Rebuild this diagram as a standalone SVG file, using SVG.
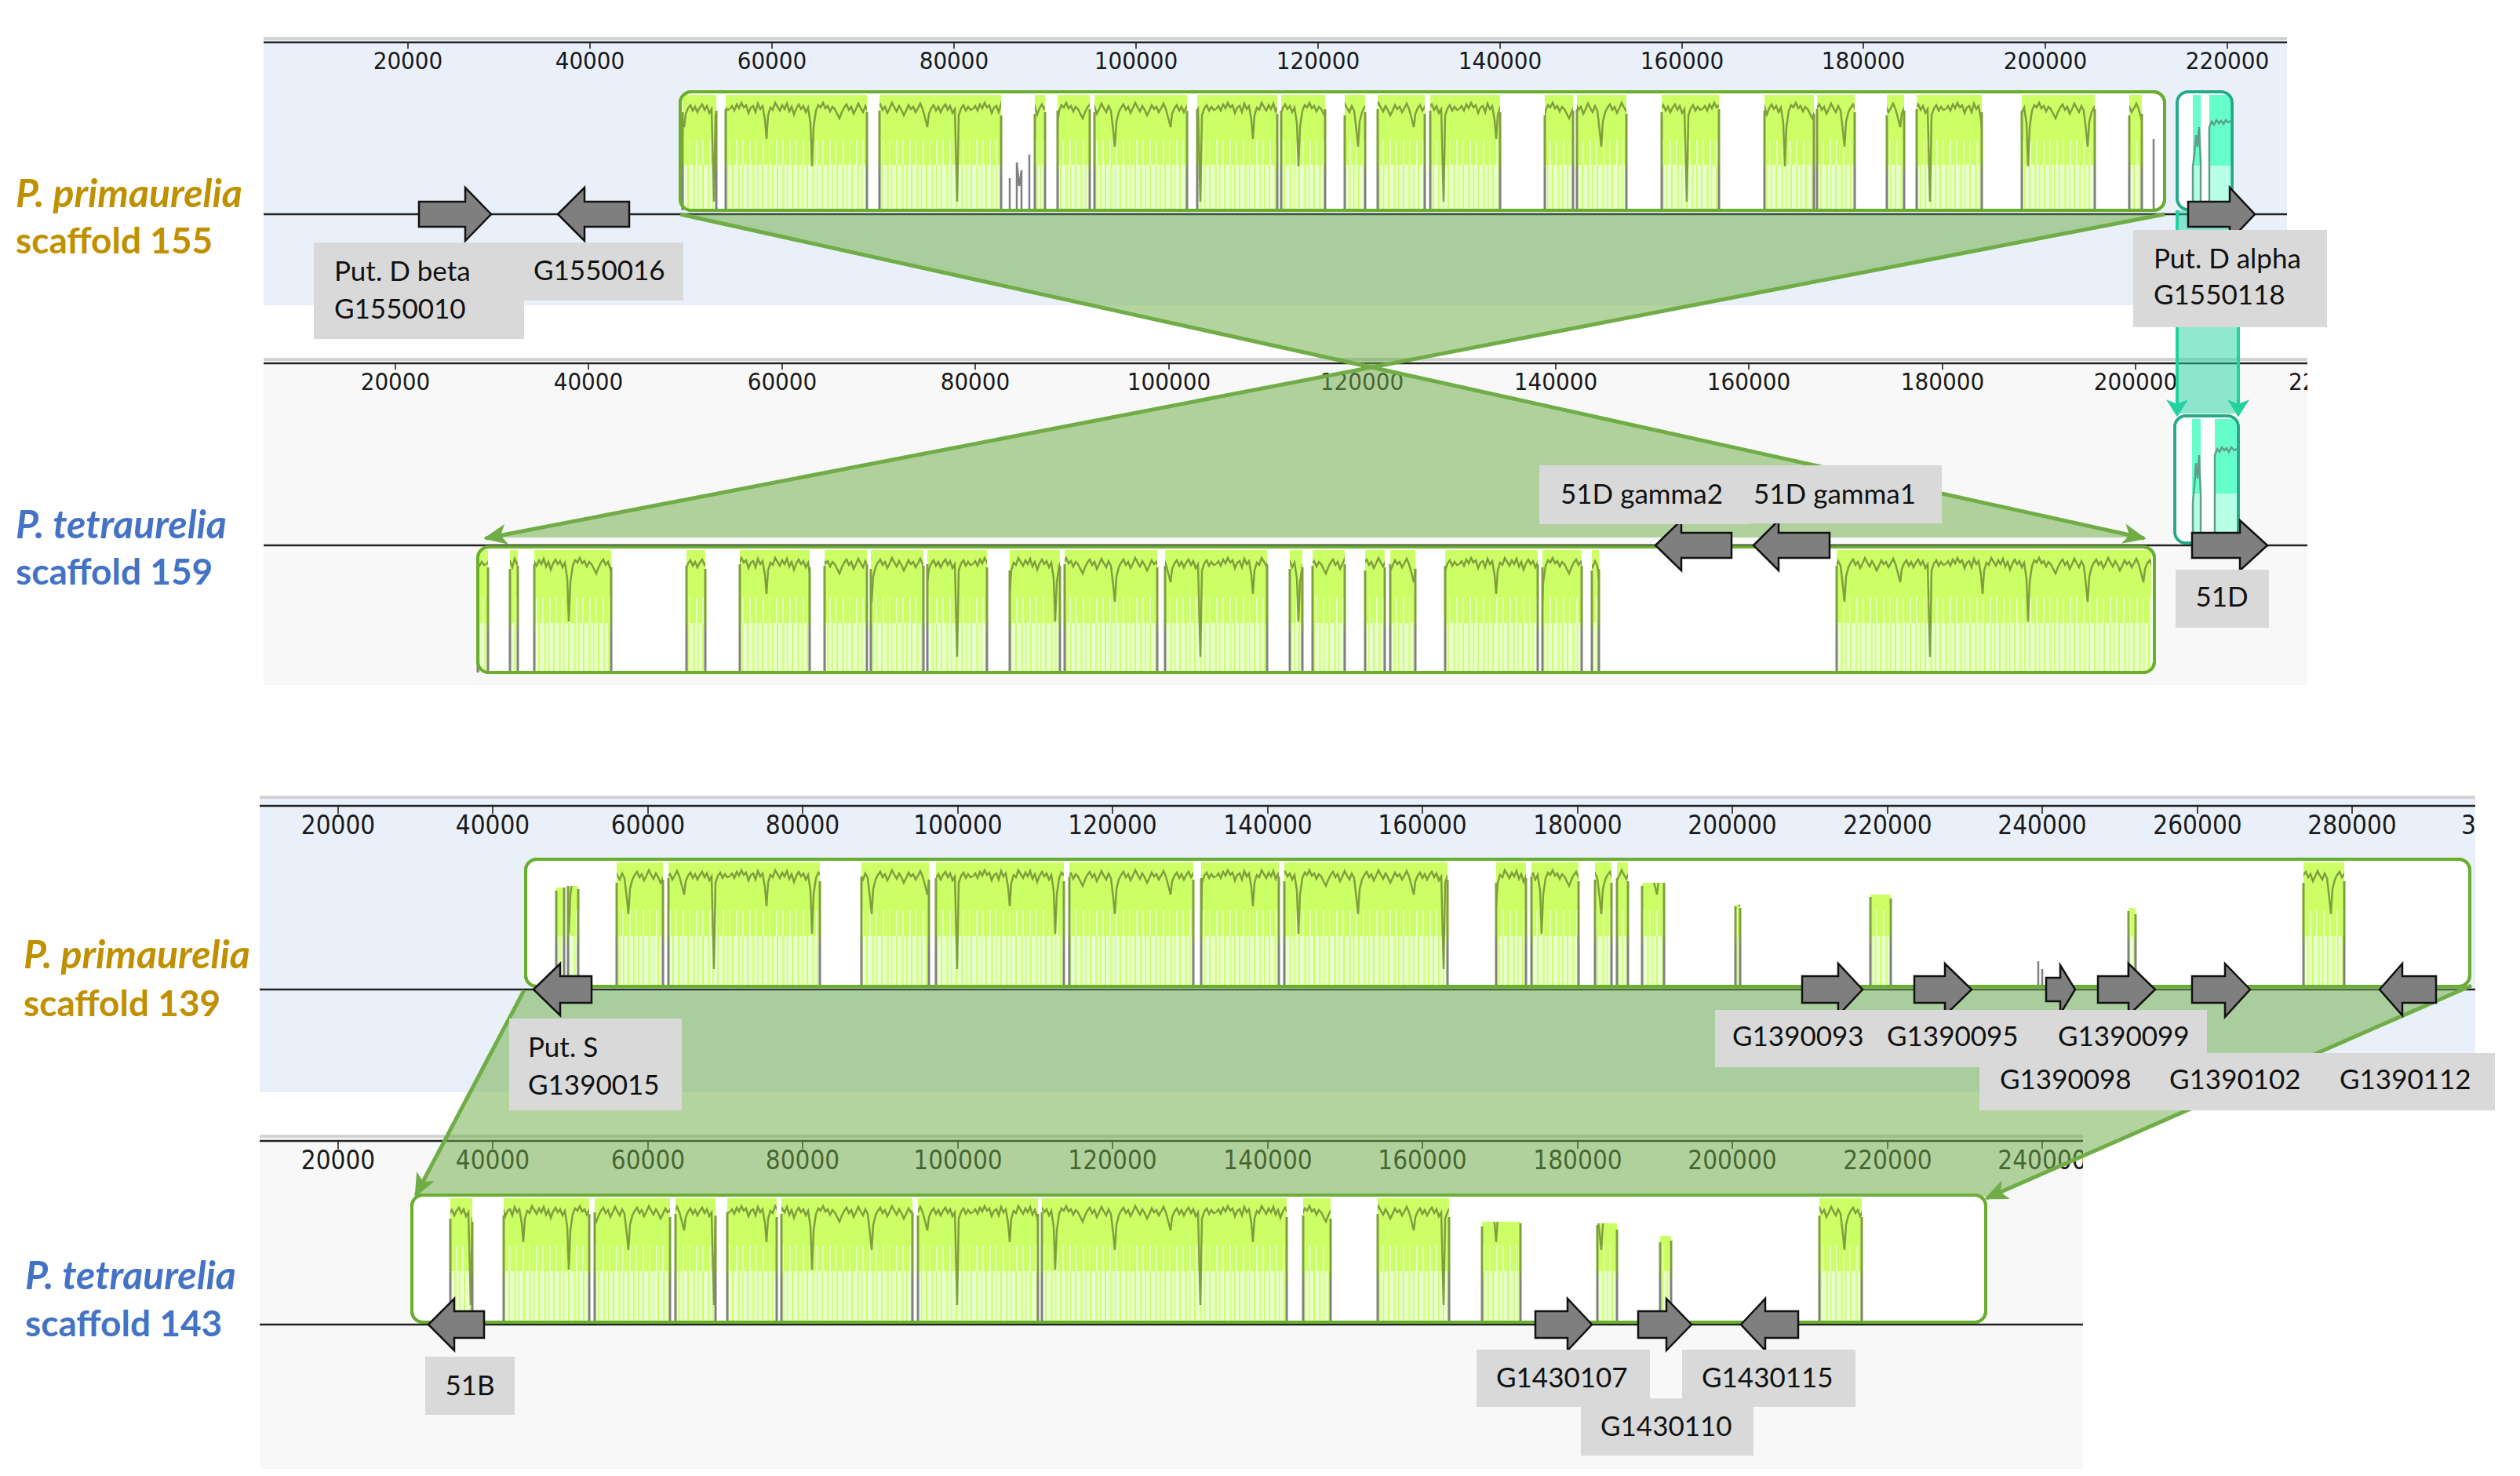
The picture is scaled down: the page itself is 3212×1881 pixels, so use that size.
<svg xmlns="http://www.w3.org/2000/svg" width="3212" height="1881" viewBox="0 0 3212 1881">
<defs>
<style>
.pbgA{fill:#EAF0FA}
.pbgB{fill:#F8F8F8}
.rgray{fill:#D2D2D2}
.rline{stroke:#222;stroke-width:2.5}
.tick{stroke:#222;stroke-width:1.6}
.rl{font-family:'DejaVu Sans Condensed','DejaVu Sans','Liberation Sans',sans-serif;font-stretch:condensed;font-size:31px;fill:#1a1a1a;text-anchor:middle}
.rl2{font-size:33px}
.rs{text-anchor:start}
.scaf{stroke:#222;stroke-width:2.5}
.blk{fill:#fff;stroke:#6AAE2E;stroke-width:4}
.blkT{fill:#fff;stroke:#22A987;stroke-width:3.5}
.drop{fill:none;stroke:url(#dg);stroke-width:3}
.cf{fill:#70AD47;fill-opacity:0.52}
.cl{stroke:#70AD47;stroke-width:5;fill:none}
.tl{stroke:#22D3A0;stroke-width:4;fill:none}
.gene{fill:#7F7F7F;stroke:#111;stroke-width:2.5}
.lb{fill:#D9D9D9}
.lt{font-family:Lato,'Liberation Sans',sans-serif;font-size:35px;fill:#111}
.sp{font-family:Lato,'Liberation Sans',sans-serif;font-weight:bold;font-size:46px}
.it{font-style:italic;font-size:50px}
.gold{fill:#BF9000}
.blue{fill:#4472C4}
.tf1{fill:#66FFCC}
.tf2{fill:#B8FFE8}
.tp{fill:none;stroke:#5F9F8A;stroke-width:2.5}
</style>
<linearGradient id="dg" x1="0" y1="0" x2="0" y2="1">
<stop offset="0" stop-color="#7F9F3F"/><stop offset="0.5" stop-color="#7F9F3F"/><stop offset="0.65" stop-color="#808080"/><stop offset="1" stop-color="#808080"/>
</linearGradient>
<pattern id="t2" width="17" height="40" patternUnits="userSpaceOnUse"><rect width="17" height="40" fill="#CCFF66"/><rect x="3" width="2" height="40" fill="#E6FFC2"/><rect x="11" width="1.5" height="40" fill="#E6FFC2"/></pattern>
<pattern id="t3" width="19" height="80" patternUnits="userSpaceOnUse"><rect width="19" height="80" fill="#EAFFCF"/><rect x="2" width="2" height="80" fill="#CCFF66"/><rect x="9" width="3" height="80" fill="#D6FF88"/><rect x="15" width="1.5" height="80" fill="#CCFF66"/></pattern>
<pattern id="prof" width="310" height="200" patternUnits="userSpaceOnUse"><path d="M0 22 L3 18 L6 24 L9 16 L12 21 L15 14 L18 20 L21 17 L24 27 L27 20 L30 18 L33 26 L36 15 L39 22 L42 18 L45 36 L47 60 L49 30 L52 20 L55 23 L58 14 L61 19 L64 24 L67 17 L70 22 L73 15 L76 25 L79 19 L82 29 L85 21 L88 16 L91 22 L94 18 L97 26 L100 20 L103 40 L105 95 L107 45 L110 24 L113 17 L116 20 L119 14 L122 21 L125 18 L128 25 L131 19 L134 22 L137 28 L140 34 L143 26 L146 20 L149 16 L152 23 L155 19 L158 28 L161 22 L164 15 L167 21 L170 26 L173 18 L176 24 L179 50 L181 70 L183 38 L186 26 L189 20 L192 16 L195 23 L198 19 L201 27 L204 21 L207 14 L210 20 L213 25 L216 18 L219 23 L222 30 L225 24 L228 17 L231 22 L234 19 L237 26 L240 21 L243 15 L246 22 L249 33 L252 45 L254 28 L257 21 L260 17 L263 24 L266 19 L269 26 L272 20 L275 16 L278 23 L281 18 L284 27 L287 22 L290 140 L292 30 L295 21 L298 17 L301 24 L304 19 L307 23 L310 22" fill="none" stroke="#7F9F3F" stroke-width="2.5"/></pattern>
<marker id="ag" viewBox="0 0 10 10" refX="9" refY="5" markerWidth="30" markerHeight="26" markerUnits="userSpaceOnUse" orient="auto" preserveAspectRatio="none"><path d="M0,0 L10,5 L0,10 L2.5,5 z" fill="#70AD47"/></marker>
<marker id="at" viewBox="0 0 10 10" refX="9" refY="5" markerWidth="22" markerHeight="28" markerUnits="userSpaceOnUse" orient="auto" preserveAspectRatio="none"><path d="M0,0 L10,5 L0,10 L2.5,5 z" fill="#22D3A0"/></marker>
<clipPath id="cpA"><rect x="336" y="40" width="2579" height="360"/></clipPath>
<clipPath id="cpB"><rect x="336" y="450" width="2605" height="430"/></clipPath>
<clipPath id="cpC"><rect x="331" y="1005" width="2824" height="390"/></clipPath>
<clipPath id="cpD"><rect x="331" y="1440" width="2324" height="435"/></clipPath>
</defs>

<rect width="3212" height="1881" fill="#fff"/>

<!-- Panel A -->
<g id="panel-a" clip-path="url(#cpA)">
<rect class="pbgA" x="336" y="47" width="2579" height="342"/>
<rect class="rgray" x="336" y="47" width="2579" height="4"/>
<line class="rline" x1="336" y1="54" x2="2915" y2="54"/>
<path class="tick" d="M520 54V62M752 54V62M984 54V62M1216 54V62M1448 54V62M1680 54V62M1912 54V62M2144 54V62M2375 54V62M2607 54V62M2839 54V62"/>
<text class="rl" x="520" y="88">20000</text><text class="rl" x="752" y="88">40000</text><text class="rl" x="984" y="88">60000</text><text class="rl" x="1216" y="88">80000</text><text class="rl" x="1448" y="88">100000</text><text class="rl" x="1680" y="88">120000</text><text class="rl" x="1912" y="88">140000</text><text class="rl" x="2144" y="88">160000</text><text class="rl" x="2375" y="88">180000</text><text class="rl" x="2607" y="88">200000</text><text class="rl" x="2839" y="88">220000</text>
<line class="scaf" x1="336" y1="273" x2="2915" y2="273"/>
</g>

<!-- Panel B -->
<g id="panel-b" clip-path="url(#cpB)">
<rect class="pbgB" x="336" y="456" width="2605" height="417"/>
<rect class="rgray" x="336" y="456" width="2605" height="4"/>
<line class="rline" x1="336" y1="463" x2="2941" y2="463"/>
<path class="tick" d="M504 463V471M750 463V471M997 463V471M1243 463V471M1490 463V471M1736 463V471M1983 463V471M2229 463V471M2476 463V471M2722 463V471"/>
<text class="rl" x="504" y="497">20000</text><text class="rl" x="750" y="497">40000</text><text class="rl" x="997" y="497">60000</text><text class="rl" x="1243" y="497">80000</text><text class="rl" x="1490" y="497">100000</text><text class="rl" x="1736" y="497">120000</text><text class="rl" x="1983" y="497">140000</text><text class="rl" x="2229" y="497">160000</text><text class="rl" x="2476" y="497">180000</text><text class="rl" x="2722" y="497">200000</text><text class="rl rs" x="2917" y="497">22</text>
<line class="scaf" x1="336" y1="695" x2="2941" y2="695"/>
</g>

<!-- Panel C -->
<g id="panel-c" clip-path="url(#cpC)">
<rect class="pbgA" x="331" y="1014" width="2824" height="378"/>
<rect class="rgray" x="331" y="1014" width="2824" height="4"/>
<line class="rline" x1="331" y1="1027" x2="3155" y2="1027"/>
<path class="tick" d="M431 1027V1037M628 1027V1037M826 1027V1037M1023 1027V1037M1221 1027V1037M1418 1027V1037M1616 1027V1037M1813 1027V1037M2011 1027V1037M2208 1027V1037M2406 1027V1037M2603 1027V1037M2801 1027V1037M2998 1027V1037"/>
<text class="rl rl2" x="431" y="1063">20000</text><text class="rl rl2" x="628" y="1063">40000</text><text class="rl rl2" x="826" y="1063">60000</text><text class="rl rl2" x="1023" y="1063">80000</text><text class="rl rl2" x="1221" y="1063">100000</text><text class="rl rl2" x="1418" y="1063">120000</text><text class="rl rl2" x="1616" y="1063">140000</text><text class="rl rl2" x="1813" y="1063">160000</text><text class="rl rl2" x="2011" y="1063">180000</text><text class="rl rl2" x="2208" y="1063">200000</text><text class="rl rl2" x="2406" y="1063">220000</text><text class="rl rl2" x="2603" y="1063">240000</text><text class="rl rl2" x="2801" y="1063">260000</text><text class="rl rl2" x="2998" y="1063">280000</text><text class="rl rl2 rs" x="3137" y="1063">3</text>
<line class="scaf" x1="331" y1="1261" x2="3155" y2="1261"/>
</g>

<!-- Panel D -->
<g id="panel-d" clip-path="url(#cpD)">
<rect class="pbgB" x="331" y="1446" width="2324" height="426"/>
<rect class="rgray" x="331" y="1446" width="2324" height="4"/>
<line class="rline" x1="331" y1="1454" x2="2655" y2="1454"/>
<path class="tick" d="M431 1454V1464M628 1454V1464M826 1454V1464M1023 1454V1464M1221 1454V1464M1418 1454V1464M1616 1454V1464M1813 1454V1464M2011 1454V1464M2208 1454V1464M2406 1454V1464M2603 1454V1464"/>
<text class="rl rl2" x="431" y="1490">20000</text><text class="rl rl2" x="628" y="1490">40000</text><text class="rl rl2" x="826" y="1490">60000</text><text class="rl rl2" x="1023" y="1490">80000</text><text class="rl rl2" x="1221" y="1490">100000</text><text class="rl rl2" x="1418" y="1490">120000</text><text class="rl rl2" x="1616" y="1490">140000</text><text class="rl rl2" x="1813" y="1490">160000</text><text class="rl rl2" x="2011" y="1490">180000</text><text class="rl rl2" x="2208" y="1490">200000</text><text class="rl rl2" x="2406" y="1490">220000</text><text class="rl rl2" x="2603" y="1490">240000</text>
<line class="scaf" x1="331" y1="1688" x2="2655" y2="1688"/>
</g>

<!-- Block A -->
<g id="block-a" transform="translate(0,117)">
<clipPath id="segA"><rect x="870" y="4" width="43" height="147"/><rect x="925" y="4" width="180" height="147"/><rect x="1121" y="4" width="155" height="147"/><rect x="1319" y="4" width="13" height="147"/><rect x="1348" y="4" width="41" height="147"/><rect x="1395" y="4" width="118" height="147"/><rect x="1526" y="4" width="102" height="147"/><rect x="1633" y="4" width="56" height="147"/><rect x="1714" y="4" width="26" height="147"/><rect x="1756" y="4" width="60" height="147"/><rect x="1823" y="4" width="89" height="147"/><rect x="1969" y="4" width="36" height="147"/><rect x="2010" y="4" width="63" height="147"/><rect x="2118" y="4" width="73" height="147"/><rect x="2249" y="4" width="63" height="147"/><rect x="2316" y="4" width="48" height="147"/><rect x="2405" y="4" width="22" height="147"/><rect x="2443" y="4" width="83" height="147"/><rect x="2577" y="4" width="93" height="147"/><rect x="2714" y="4" width="16" height="147"/></clipPath>
<rect class="blk" x="867" y="0" width="1892" height="151" rx="14"/>
<g clip-path="url(#segA)">
<rect x="867" y="0" width="1892" height="62" fill="#CCFF66"/>
<rect x="867" y="62" width="1892" height="31" fill="url(#t2)"/>
<rect x="867" y="93" width="1892" height="58" fill="url(#t3)"/>
<rect x="867" y="0" width="1892" height="151" fill="url(#prof)"/>
</g>
<path class="drop" d="M870 151V26M913 24V151M925 151V22M1105 26V151M1121 151V24M1276 30V151M1319 151V28M1332 26V151M1348 151V24M1389 22V151M1395 151V26M1513 24V151M1526 151V22M1628 28V151M1633 151V24M1689 22V151M1714 151V30M1740 26V151M1756 151V22M1816 28V151M1823 151V24M1912 26V151M1969 151V30M2005 24V151M2010 151V22M2073 28V151M2118 151V26M2191 22V151M2249 151V24M2312 28V151M2316 151V22M2364 26V151M2405 151V30M2427 24V151M2443 151V22M2526 26V151M2577 151V24M2670 22V151M2714 151V30M2730 28V151"/>
<path fill="none" stroke="#808080" stroke-width="2.5" d="M1287 151V110M1296 151V90L1299 120L1302 100V151M1312 151V80M2745 151V60"/>
<rect x="867" y="0" width="1892" height="151" rx="14" fill="none" stroke="#6AAE2E" stroke-width="4"/>
</g>

<!-- Block A2 (teal) -->
<g id="block-a2" transform="translate(0,117)">
<rect class="blkT" x="2775" y="0" width="70" height="150" rx="14"/>
<rect class="tf1" x="2795" y="4" width="10" height="90"/><rect class="tf2" x="2795" y="94" width="10" height="56"/>
<rect class="tf1" x="2816" y="4" width="28" height="90"/><rect class="tf2" x="2816" y="94" width="28" height="56"/>
<path class="tp" d="M2795 150V95L2797 80L2799 55L2801 70L2803 45L2805 90V150M2816 150V45L2819 38L2822 42L2825 36L2828 40L2831 37L2834 41L2837 36L2840 39L2844 37"/>
<rect x="2775" y="0" width="70" height="150" rx="14" fill="none" stroke="#22A987" stroke-width="3.5"/>
</g>

<!-- Block B -->
<g id="block-b" transform="translate(0,697)">
<clipPath id="segB"><rect x="609" y="4" width="13" height="156"/><rect x="650" y="4" width="10" height="156"/><rect x="681" y="4" width="98" height="156"/><rect x="875" y="4" width="24" height="156"/><rect x="943" y="4" width="89" height="156"/><rect x="1051" y="4" width="54" height="156"/><rect x="1110" y="4" width="67" height="156"/><rect x="1182" y="4" width="76" height="156"/><rect x="1287" y="4" width="64" height="156"/><rect x="1357" y="4" width="118" height="156"/><rect x="1485" y="4" width="130" height="156"/><rect x="1644" y="4" width="16" height="156"/><rect x="1673" y="4" width="41" height="156"/><rect x="1740" y="4" width="25" height="156"/><rect x="1772" y="4" width="32" height="156"/><rect x="1842" y="4" width="118" height="156"/><rect x="1966" y="4" width="50" height="156"/><rect x="2029" y="4" width="9" height="156"/><rect x="2341" y="4" width="401" height="156"/></clipPath>
<rect class="blk" x="609" y="0" width="2137" height="160" rx="14"/>
<g clip-path="url(#segB)">
<rect x="609" y="0" width="2137" height="64" fill="#CCFF66"/>
<rect x="609" y="64" width="2137" height="33" fill="url(#t2)"/>
<rect x="609" y="97" width="2137" height="63" fill="url(#t3)"/>
<rect x="609" y="0" width="2137" height="160" fill="url(#prof)"/>
</g>
<path class="drop" d="M609 160V30M622 26V160M650 160V28M660 24V160M681 160V22M779 26V160M875 160V24M899 28V160M943 160V22M1032 26V160M1051 160V24M1105 22V160M1110 160V28M1177 24V160M1182 160V22M1258 26V160M1287 160V30M1351 24V160M1357 160V22M1475 26V160M1485 160V24M1615 22V160M1644 160V28M1660 26V160M1673 160V24M1714 22V160M1740 160V30M1765 26V160M1772 160V22M1804 28V160M1842 160V24M1960 22V160M1966 160V26M2016 24V160M2029 160V30M2038 28V160M2341 160V24"/>
<rect x="609" y="0" width="2137" height="160" rx="14" fill="none" stroke="#6AAE2E" stroke-width="4"/>
</g>

<!-- Block B2 (teal) -->
<g id="block-b2" transform="translate(0,530)">
<rect class="blkT" x="2772" y="0" width="81" height="162" rx="14"/>
<rect class="tf1" x="2794" y="4" width="11" height="95"/><rect class="tf2" x="2794" y="99" width="11" height="62"/>
<rect class="tf1" x="2823" y="4" width="28" height="95"/><rect class="tf2" x="2823" y="99" width="28" height="62"/>
<path class="tp" d="M2795 162V110L2797 90L2799 60L2801 80L2803 50L2805 100V162M2823 162V50L2826 42L2829 46L2832 40L2835 44L2838 41L2841 46L2844 40L2848 44L2851 42"/>
<rect x="2772" y="0" width="81" height="162" rx="14" fill="none" stroke="#22A987" stroke-width="3.5"/>
</g>

<!-- Block C -->
<g id="block-c" transform="translate(0,1095)">
<clipPath id="segC"><rect x="709" y="36" width="10" height="126"/><rect x="724" y="34" width="13" height="128"/><rect x="786" y="4" width="59" height="158"/><rect x="852" y="4" width="193" height="158"/><rect x="1098" y="4" width="86" height="158"/><rect x="1193" y="4" width="163" height="158"/><rect x="1363" y="4" width="158" height="158"/><rect x="1531" y="4" width="99" height="158"/><rect x="1637" y="4" width="208" height="158"/><rect x="1907" y="4" width="38" height="158"/><rect x="1952" y="4" width="60" height="158"/><rect x="2033" y="4" width="21" height="158"/><rect x="2061" y="4" width="14" height="158"/><rect x="2093" y="30" width="28" height="132"/><rect x="2212" y="58" width="6" height="104"/><rect x="2384" y="45" width="26" height="117"/><rect x="2713" y="62" width="9" height="100"/><rect x="2936" y="4" width="52" height="158"/></clipPath>
<rect class="blk" x="670" y="0" width="2478" height="162" rx="14"/>
<g clip-path="url(#segC)">
<rect x="670" y="0" width="2478" height="65" fill="#CCFF66"/>
<rect x="670" y="65" width="2478" height="33" fill="url(#t2)"/>
<rect x="670" y="98" width="2478" height="64" fill="url(#t3)"/>
<rect x="670" y="0" width="2478" height="162" fill="url(#prof)"/>
</g>
<path class="drop" d="M709 162V40M719 36V162M724 162V34M737 38V162M786 162V30M845 26V162M852 162V24M1045 28V162M1098 162V22M1184 26V162M1193 162V24M1356 28V162M1363 162V22M1521 26V162M1531 162V24M1630 22V162M1637 162V28M1845 26V162M1907 162V30M1945 24V162M1952 162V22M2012 28V162M2033 162V26M2054 30V162M2061 162V24M2075 28V162M2093 162V34M2121 30V162M2212 162V60M2218 62V162M2384 162V48M2410 50V162M2713 162V66M2722 70V162M2936 162V30M2988 28V162"/>
<path fill="none" stroke="#808080" stroke-width="2.5" d="M2598 162V130M2603 162V140"/>
<rect x="670" y="0" width="2478" height="162" rx="14" fill="none" stroke="#6AAE2E" stroke-width="4"/>
</g>

<!-- Block D -->
<g id="block-d" transform="translate(0,1523)">
<clipPath id="segD"><rect x="574" y="4" width="28" height="158"/><rect x="642" y="4" width="109" height="158"/><rect x="758" y="4" width="96" height="158"/><rect x="861" y="4" width="51" height="158"/><rect x="927" y="4" width="63" height="158"/><rect x="996" y="4" width="167" height="158"/><rect x="1170" y="4" width="153" height="158"/><rect x="1328" y="4" width="312" height="158"/><rect x="1661" y="4" width="35" height="158"/><rect x="1756" y="4" width="91" height="158"/><rect x="1889" y="34" width="49" height="128"/><rect x="2036" y="36" width="25" height="126"/><rect x="2116" y="52" width="14" height="110"/><rect x="2319" y="4" width="54" height="158"/></clipPath>
<rect class="blk" x="525" y="0" width="2006" height="162" rx="14"/>
<g clip-path="url(#segD)">
<rect x="525" y="0" width="2006" height="64" fill="#CCFF66"/>
<rect x="525" y="64" width="2006" height="33" fill="url(#t2)"/>
<rect x="525" y="97" width="2006" height="65" fill="url(#t3)"/>
<rect x="525" y="0" width="2006" height="162" fill="url(#prof)"/>
</g>
<path class="drop" d="M574 162V30M602 34V162M642 162V26M751 24V162M758 162V22M854 28V162M861 162V24M912 26V162M927 162V22M990 28V162M996 162V24M1163 22V162M1170 162V26M1323 24V162M1328 162V22M1640 28V162M1661 162V26M1696 30V162M1756 162V24M1847 28V162M1889 162V40M1938 36V162M2036 162V38M2061 44V162M2116 162V60M2130 58V162M2319 162V26M2373 28V162"/>
<rect x="525" y="0" width="2006" height="162" rx="14" fill="none" stroke="#6AAE2E" stroke-width="4"/>
</g>

<!-- Connectors -->
<g id="connectors">
<polygon class="cf" points="867,273 2759,273 1748,468"/>
<polygon class="cf" points="1748,468 621,685 2731,685"/>
<line class="cl" x1="867" y1="273" x2="2733" y2="686" marker-end="url(#ag)"/>
<line class="cl" x1="2759" y1="273" x2="619" y2="686" marker-end="url(#ag)"/>
<polygon fill="#22D3A0" fill-opacity="0.5" points="2775,268 2853,268 2853,527 2775,527"/>
<line class="tl" x1="2775" y1="268" x2="2775" y2="529" marker-end="url(#at)"/>
<line class="tl" x1="2853" y1="268" x2="2853" y2="529" marker-end="url(#at)"/>
<polygon class="cf" points="668,1262 3150,1256 2532,1525 530,1522"/>
<line class="cl" x1="668" y1="1262" x2="530" y2="1523" marker-end="url(#ag)"/>
<line class="cl" x1="3150" y1="1256" x2="2532" y2="1527" marker-end="url(#ag)"/>
</g>

<!-- Genes -->
<g id="gene-put-d-beta"><polygon class="gene" points="534,257 593,257 593,239 626,273 593,307 593,289 534,289"/></g>
<g id="gene-g1550016"><polygon class="gene" points="711,273 745,239 745,257 802,257 802,289 745,289 745,307"/></g>
<g id="gene-put-d-alpha"><polygon class="gene" points="2789,257 2842,257 2842,239 2874,273 2842,307 2842,289 2789,289"/></g>
<g id="gene-51d-gamma2"><polygon class="gene" points="2110,695 2143,663 2143,679 2207,679 2207,711 2143,711 2143,727"/></g>
<g id="gene-51d-gamma1"><polygon class="gene" points="2235,695 2267,663 2267,679 2332,679 2332,711 2267,711 2267,727"/></g>
<g id="gene-51d"><polygon class="gene" points="2794,679 2855,679 2855,663 2890,695 2855,727 2855,711 2794,711"/></g>
<g id="gene-put-s"><polygon class="gene" points="680,1261 714,1228 714,1244 754,1244 754,1278 714,1278 714,1294"/></g>
<g id="gene-g1390093"><polygon class="gene" points="2297,1244 2343,1244 2343,1228 2374,1261 2343,1294 2343,1278 2297,1278"/></g>
<g id="gene-g1390095"><polygon class="gene" points="2440,1244 2479,1244 2479,1228 2513,1261 2479,1294 2479,1278 2440,1278"/></g>
<g id="gene-g1390098"><polygon class="gene" points="2608,1246 2626,1246 2626,1230 2645,1261 2626,1292 2626,1276 2608,1276"/></g>
<g id="gene-g1390099"><polygon class="gene" points="2674,1244 2713,1244 2713,1228 2747,1261 2713,1294 2713,1278 2674,1278"/></g>
<g id="gene-g1390102"><polygon class="gene" points="2794,1244 2836,1244 2836,1228 2868,1261 2836,1296 2836,1278 2794,1278"/></g>
<g id="gene-g1390112"><polygon class="gene" points="3033,1261 3062,1228 3062,1244 3105,1244 3105,1278 3062,1278 3062,1294"/></g>
<g id="gene-51b"><polygon class="gene" points="546,1688 579,1655 579,1671 617,1671 617,1705 579,1705 579,1721"/></g>
<g id="gene-g1430107"><polygon class="gene" points="1957,1671 1998,1671 1998,1655 2029,1688 1998,1721 1998,1705 1957,1705"/></g>
<g id="gene-g1430110"><polygon class="gene" points="2088,1671 2124,1671 2124,1655 2156,1688 2124,1721 2124,1705 2088,1705"/></g>
<g id="gene-g1430115"><polygon class="gene" points="2219,1688 2250,1655 2250,1671 2292,1671 2292,1705 2250,1705 2250,1721"/></g>

<!-- Labels -->
<g id="label-put-d-beta"><rect class="lb" x="400" y="309" width="268" height="123"/><text class="lt" x="426" y="358">Put. D beta</text><text class="lt" x="426" y="406">G1550010</text></g>
<g id="label-g1550016"><rect class="lb" x="668" y="309" width="203" height="74"/><text class="lt" x="680" y="357">G1550016</text></g>
<g id="label-put-d-alpha"><rect class="lb" x="2719" y="293" width="247" height="124"/><text class="lt" x="2745" y="342">Put. D alpha</text><text class="lt" x="2745" y="388">G1550118</text></g>
<g id="label-51d-gamma"><rect class="lb" x="1962" y="593" width="268" height="75"/><rect class="lb" x="2208" y="593" width="267" height="74"/><text class="lt" x="1989" y="642">51D gamma2</text><text class="lt" x="2235" y="642">51D gamma1</text></g>
<g id="label-51d"><rect class="lb" x="2773" y="726" width="119" height="74"/><text class="lt" x="2832" y="773" text-anchor="middle">51D</text></g>
<g id="label-put-s"><rect class="lb" x="649" y="1298" width="220" height="117"/><text class="lt" x="673" y="1347">Put. S</text><text class="lt" x="673" y="1395">G1390015</text></g>
<g id="label-g13900-upper"><rect class="lb" x="2186" y="1287" width="627" height="73"/><text class="lt" x="2208" y="1333">G1390093</text><text class="lt" x="2405" y="1333">G1390095</text><text class="lt" x="2623" y="1333">G1390099</text></g>
<g id="label-g13900-lower"><rect class="lb" x="2523" y="1342" width="657" height="73"/><text class="lt" x="2549" y="1388">G1390098</text><text class="lt" x="2765" y="1388">G1390102</text><text class="lt" x="2982" y="1388">G1390112</text></g>
<g id="label-51b"><rect class="lb" x="542" y="1729" width="114" height="74"/><text class="lt" x="599" y="1778" text-anchor="middle">51B</text></g>
<g id="label-g1430107"><rect class="lb" x="1882" y="1720" width="221" height="73"/><text class="lt" x="1907" y="1768">G1430107</text></g>
<g id="label-g1430110"><rect class="lb" x="2015" y="1782" width="220" height="73"/><text class="lt" x="2040" y="1830">G1430110</text></g>
<g id="label-g1430115"><rect class="lb" x="2144" y="1720" width="221" height="73"/><text class="lt" x="2169" y="1768">G1430115</text></g>

<!-- Species -->
<g id="species-a"><text class="sp it gold" x="20" y="264">P. primaurelia</text><text class="sp gold" x="20" y="323">scaffold 155</text></g>
<g id="species-b"><text class="sp it blue" x="20" y="686">P. tetraurelia</text><text class="sp blue" x="20" y="745">scaffold 159</text></g>
<g id="species-c"><text class="sp it gold" x="30" y="1234">P. primaurelia</text><text class="sp gold" x="30" y="1295">scaffold 139</text></g>
<g id="species-d"><text class="sp it blue" x="32" y="1643">P. tetraurelia</text><text class="sp blue" x="32" y="1703">scaffold 143</text></g>
</svg>
